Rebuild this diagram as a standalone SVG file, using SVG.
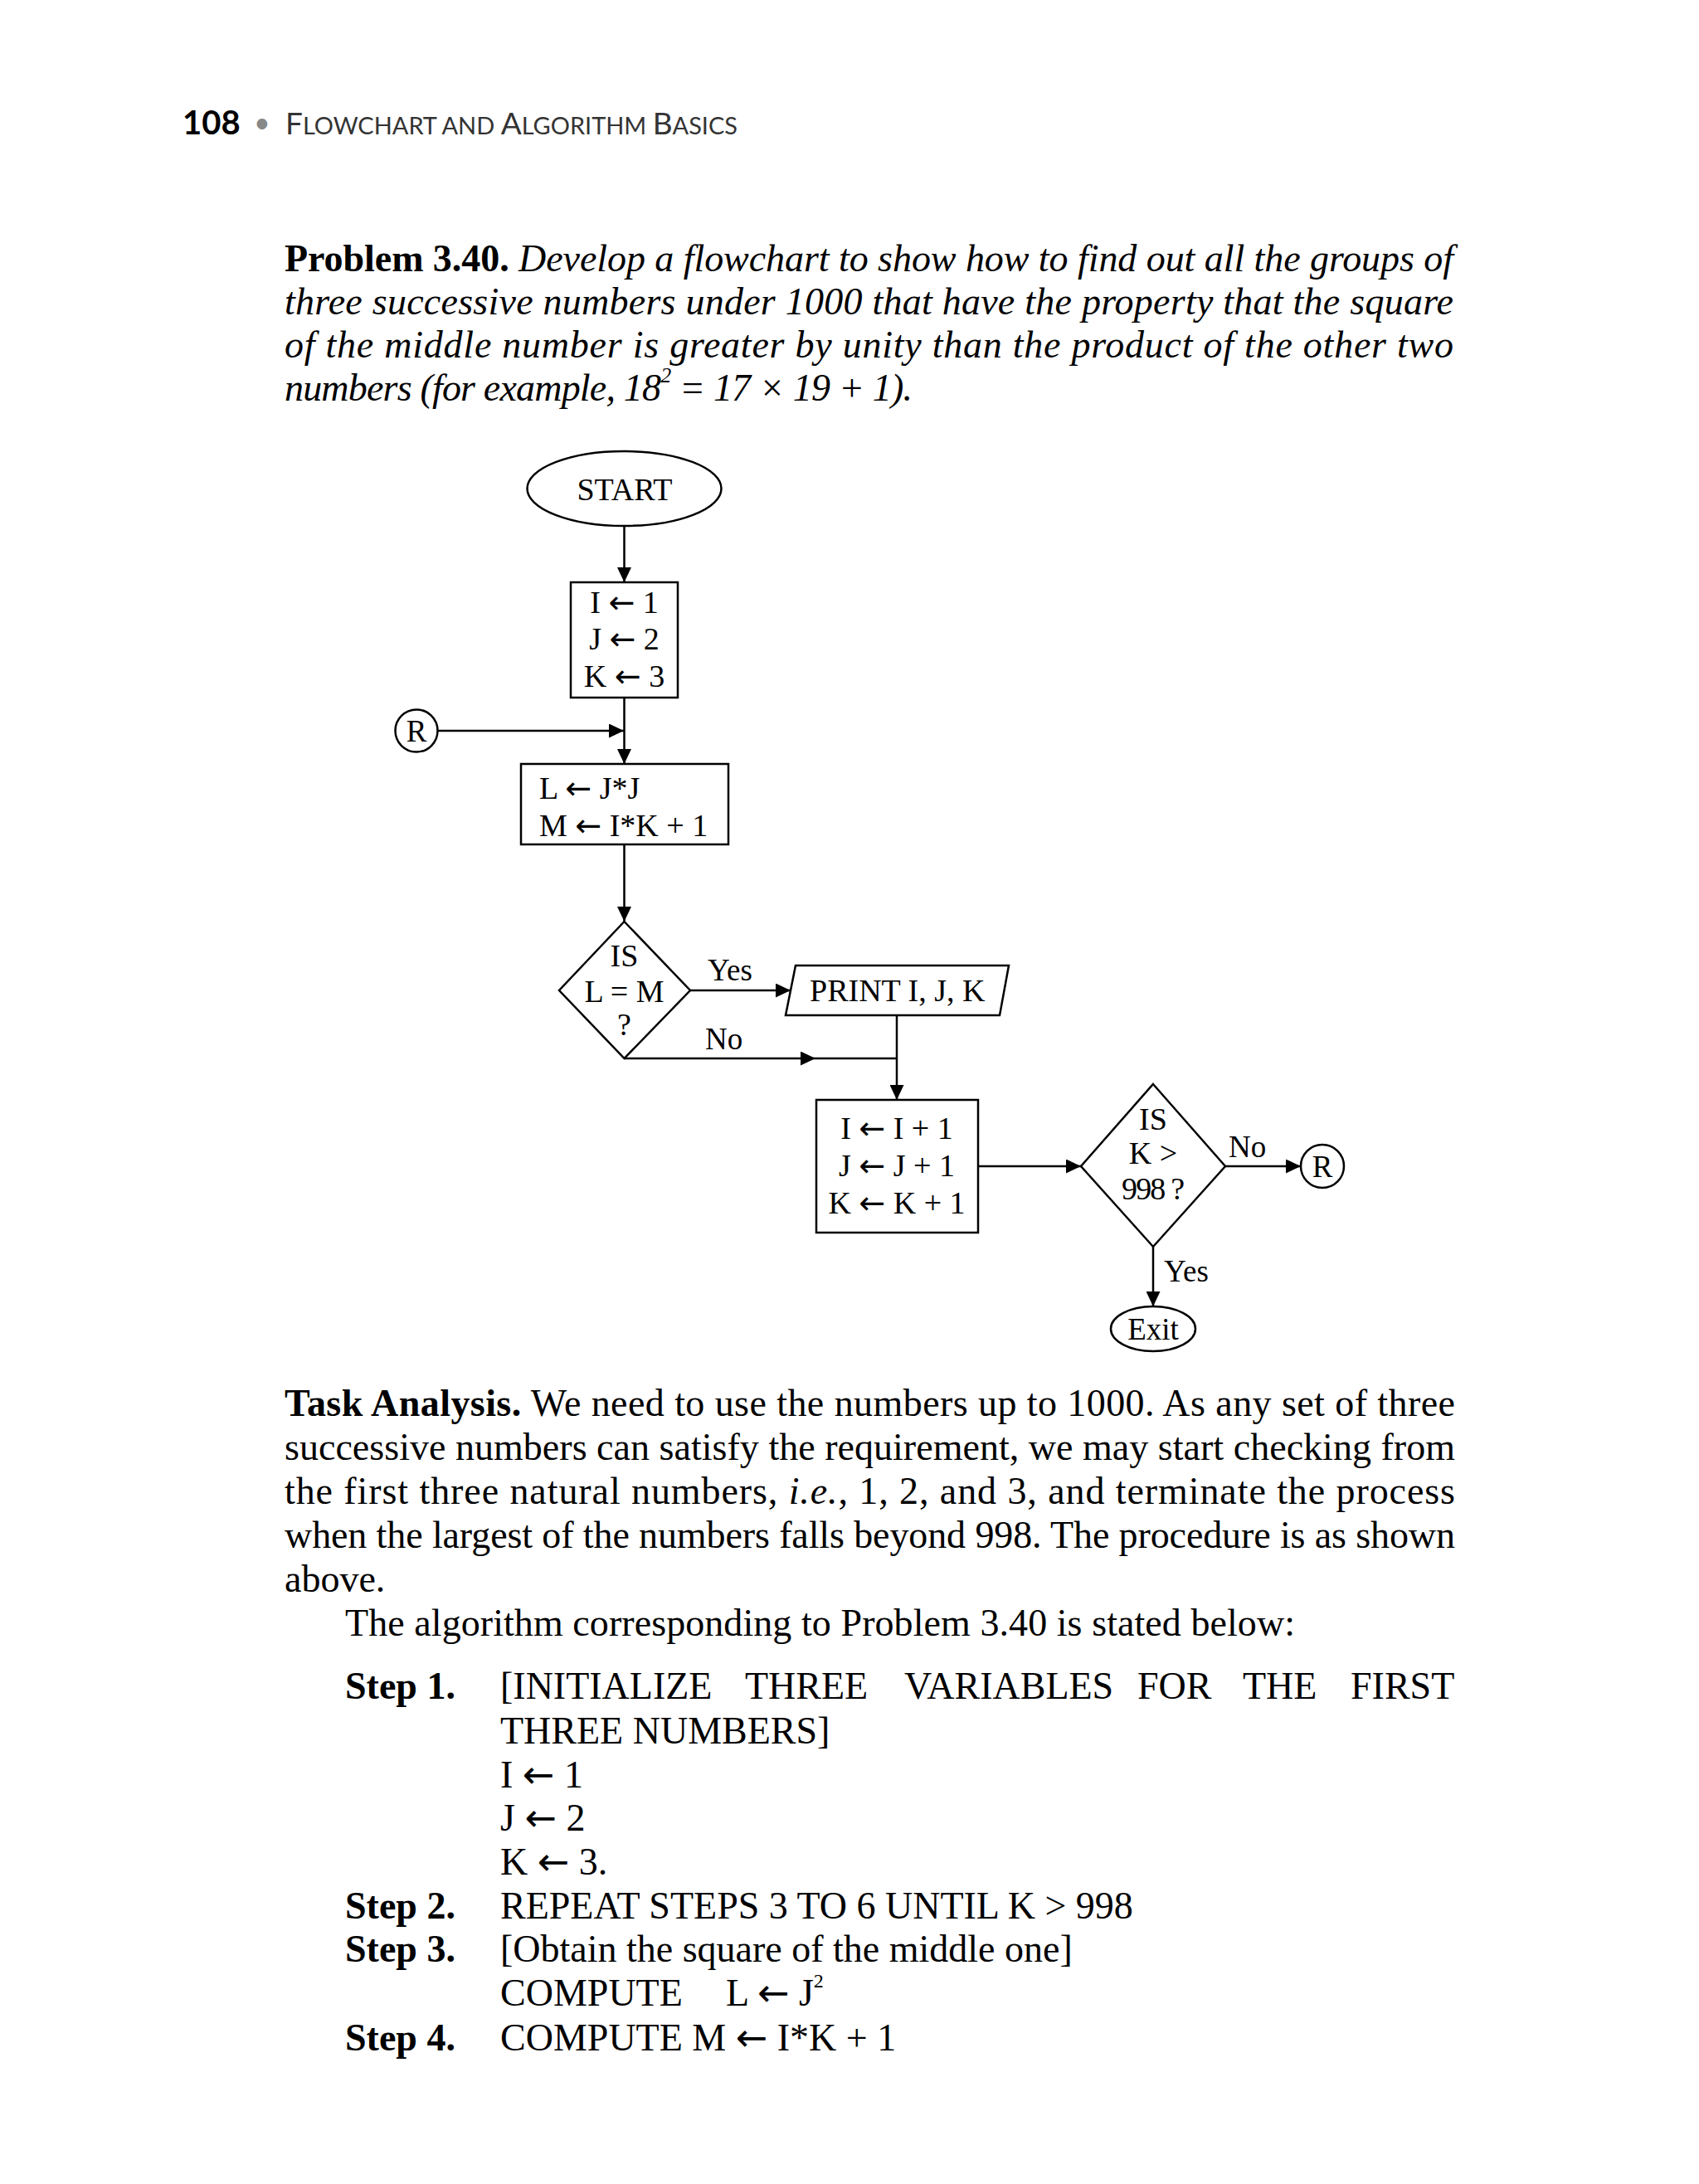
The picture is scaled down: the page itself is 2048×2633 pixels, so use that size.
<svg xmlns="http://www.w3.org/2000/svg" width="2048" height="2633" viewBox="0 0 2048 2633">
<style>
.bg{fill:#fff}
.shape{fill:none;stroke:#000;stroke-width:2.5}
.conn{fill:none;stroke:#000;stroke-width:2.5}
.ft{font-family:"Liberation Serif","DejaVu Serif",serif;font-size:38px;fill:#000}
.lbl{font-family:"Liberation Serif","DejaVu Serif",serif;font-size:37px;fill:#000}
.mid{text-anchor:middle}
.body{font-family:"Liberation Serif","DejaVu Serif",serif;font-size:46px;fill:#000}
.b{font-weight:bold}
.i{font-style:italic}
.arw{font-family:"DejaVu Sans","Liberation Sans",sans-serif;font-weight:normal}
.hdr{font-family:Lato,"Liberation Sans",sans-serif;fill:#333}
</style>
<defs>
<marker id="arr" markerUnits="userSpaceOnUse" markerWidth="18" markerHeight="17" refX="18" refY="8.5" orient="auto">
<path d="M0,0 L18,8.5 L0,17 z" fill="#000"/>
</marker>
</defs>
<rect class="bg" x="0" y="0" width="2048" height="2633"/>

<g id="header">
<text class="hdr" x="220" y="162" font-size="40" font-weight="bold" style="fill:#000">108</text>
<text class="hdr" x="306" y="160" font-size="34" style="fill:#888">•</text>
<text class="hdr" x="344" y="162" textLength="545" lengthAdjust="spacingAndGlyphs"><tspan font-size="37">F</tspan><tspan font-size="29">LOWCHART AND </tspan><tspan font-size="37">A</tspan><tspan font-size="29">LGORITHM </tspan><tspan font-size="37">B</tspan><tspan font-size="29">ASICS</tspan></text>
</g>

<g id="problem">
<text class="body" x="343" y="327" textLength="1409"><tspan class="b">Problem 3.40.</tspan><tspan class="i"> Develop a flowchart to show how to find out all the groups of</tspan></text>
<text class="body i" x="343" y="379" textLength="1409">three successive numbers under 1000 that have the property that the square</text>
<text class="body i" x="343" y="431" textLength="1409">of the middle number is greater by unity than the product of the other two</text>
<text class="body i" x="343" y="483" textLength="757">numbers (for example, 18<tspan font-size="26" dy="-22">2</tspan><tspan dy="22"> = 17 × 19 + 1).</tspan></text>
</g>

<g id="connectors">
<path class="conn" d="M752.5,634 V702" marker-end="url(#arr)"/>
<path class="conn" d="M752.5,841 V921" marker-end="url(#arr)"/>
<path class="conn" d="M527.5,881 H752" marker-end="url(#arr)"/>
<path class="conn" d="M752.5,1018 V1111" marker-end="url(#arr)"/>
<path class="conn" d="M832,1194 H953" marker-end="url(#arr)"/>
<path class="conn" d="M752.5,1276 H983" marker-end="url(#arr)"/>
<path class="conn" d="M983,1276 H1081"/>
<path class="conn" d="M1081,1224 V1326" marker-end="url(#arr)"/>
<path class="conn" d="M1179,1406 H1303" marker-end="url(#arr)"/>
<path class="conn" d="M1477,1406 H1568" marker-end="url(#arr)"/>
<path class="conn" d="M1390,1503 V1575" marker-end="url(#arr)"/>
<text class="lbl" x="853" y="1182">Yes</text>
<text class="lbl" x="850" y="1265">No</text>
<text class="lbl" x="1481" y="1395">No</text>
<text class="lbl" x="1403" y="1545">Yes</text>
</g>

<g id="start">
<ellipse class="shape" cx="752.5" cy="589" rx="117" ry="45"/>
<text class="ft mid" x="753" y="603">START</text>
</g>

<g id="init">
<rect class="shape" x="688" y="702" width="129" height="139"/>
<text class="ft mid" x="752.5" y="739">I <tspan class="arw">←</tspan> 1</text>
<text class="ft mid" x="752.5" y="783">J <tspan class="arw">←</tspan> 2</text>
<text class="ft mid" x="752.5" y="828">K <tspan class="arw">←</tspan> 3</text>
</g>

<g id="connR1">
<circle class="shape" cx="502" cy="881" r="25.5"/>
<text class="lbl mid" x="502" y="894">R</text>
</g>

<g id="compute">
<rect class="shape" x="628" y="921" width="250" height="97"/>
<text class="ft" x="650" y="963">L <tspan class="arw">←</tspan> J*J</text>
<text class="ft" x="650" y="1008">M <tspan class="arw">←</tspan> I*K + 1</text>
</g>

<g id="decision1">
<polygon class="shape" points="752.5,1111 832,1194 752.5,1276 674,1194"/>
<text class="ft mid" x="752.5" y="1165">IS</text>
<text class="ft mid" x="752.5" y="1208">L = M</text>
<text class="ft mid" x="752.5" y="1248">?</text>
</g>

<g id="print">
<polygon class="shape" points="959,1164 1216,1164 1205,1224 947,1224"/>
<text class="ft" x="976" y="1207">PRINT I, J, K</text>
</g>

<g id="increment">
<rect class="shape" x="984" y="1326" width="195" height="160"/>
<text class="ft mid" x="1081" y="1373">I <tspan class="arw">←</tspan> I + 1</text>
<text class="ft mid" x="1081" y="1418">J <tspan class="arw">←</tspan> J + 1</text>
<text class="ft mid" x="1081" y="1463">K <tspan class="arw">←</tspan> K + 1</text>
</g>

<g id="decision2">
<polygon class="shape" points="1390,1307 1477,1406 1390,1503 1303,1406"/>
<text class="ft mid" x="1390" y="1362">IS</text>
<text class="ft mid" x="1390" y="1403">K &gt;</text>
<text class="ft mid" x="1390" y="1446" textLength="76">998 ?</text>
</g>

<g id="connR2">
<circle class="shape" cx="1594" cy="1406" r="26"/>
<text class="lbl mid" x="1594" y="1419">R</text>
</g>

<g id="exit">
<ellipse class="shape" cx="1390" cy="1602" rx="51" ry="27"/>
<text class="lbl mid" x="1390" y="1615">Exit</text>
</g>

<g id="analysis">
<text class="body" x="343" y="1707" textLength="1411"><tspan class="b">Task Analysis.</tspan> We need to use the numbers up to 1000. As any set of three</text>
<text class="body" x="343" y="1760" textLength="1411">successive numbers can satisfy the requirement, we may start checking from</text>
<text class="body" x="343" y="1813" textLength="1411">the first three natural numbers, <tspan class="i">i.e.</tspan>, 1, 2, and 3, and terminate the process</text>
<text class="body" x="343" y="1866" textLength="1411">when the largest of the numbers falls beyond 998. The procedure is as shown</text>
<text class="body" x="343" y="1919">above.</text>
<text class="body" x="416" y="1972" textLength="1145">The algorithm corresponding to Problem 3.40 is stated below:</text>
</g>

<g id="algorithm">
<text class="body b" x="416" y="2048">Step 1.</text>
<text class="body" y="2048"><tspan x="603">[INITIALIZE</tspan><tspan x="898">THREE</tspan><tspan x="1090">VARIABLES</tspan><tspan x="1371">FOR</tspan><tspan x="1498">THE</tspan><tspan x="1628">FIRST</tspan></text>
<text class="body" x="603" y="2102">THREE NUMBERS]</text>
<text class="body" x="603" y="2155">I <tspan class="arw">←</tspan> 1</text>
<text class="body" x="603" y="2207">J <tspan class="arw">←</tspan> 2</text>
<text class="body" x="603" y="2260">K <tspan class="arw">←</tspan> 3.</text>
<text class="body b" x="416" y="2313">Step 2.</text>
<text class="body" x="603" y="2313">REPEAT STEPS 3 TO 6 UNTIL K &gt; 998</text>
<text class="body b" x="416" y="2365">Step 3.</text>
<text class="body" x="603" y="2365">[Obtain the square of the middle one]</text>
<text class="body" y="2418"><tspan x="603">COMPUTE</tspan><tspan x="875">L <tspan class="arw">←</tspan> J</tspan><tspan font-size="24" dy="-22">2</tspan></text>
<text class="body b" x="416" y="2472">Step 4.</text>
<text class="body" x="603" y="2472">COMPUTE M <tspan class="arw">←</tspan> I*K + 1</text>
</g>
</svg>
